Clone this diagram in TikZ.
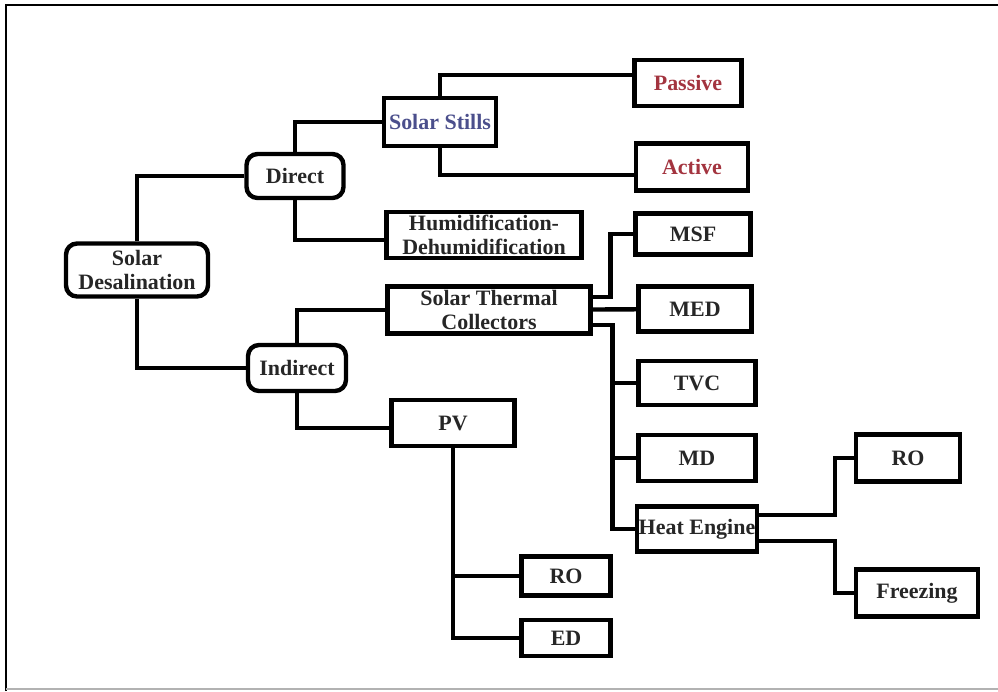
\documentclass[tikz,border=0pt]{standalone}
\usepackage{fontspec}
\setmainfont{Liberation Serif}
\definecolor{stillblue}{HTML}{4B4F8C}
\definecolor{stillred}{HTML}{A3343F}
\begin{document}
\begin{tikzpicture}[x=0.02cm,y=-0.02cm,
		sbox/.style={draw,line width=2.5pt,align=center,inner sep=1pt,font=\fontsize{12.5}{13.5}\selectfont\bfseries,text=black!85},
		rbox/.style={sbox,rounded corners=0.22cm},
		link/.style={line width=2.5pt}]
		\path[use as bounding box] (0,0) rectangle (998,691);
		\draw[line width=1.1pt] (6,691) -- (6,5) -- (998,5);
		\draw[gray!60,line width=1pt] (6,689) -- (998,689);
		
		\node[rbox,minimum width=2.84cm,minimum height=1.06cm] (sd) at (137,270) {Solar\\Desalination};
		\node[rbox,minimum width=1.94cm,minimum height=0.88cm] (dir) at (295,176) {Direct};
		\node[rbox,minimum width=1.96cm,minimum height=0.92cm] (ind) at (297,368) {Indirect};
		
		\node[sbox,minimum width=2.24cm,minimum height=0.96cm,text=stillblue] (stills) at (440,122) {Solar Stills};
		\node[sbox,minimum width=2.14cm,minimum height=0.92cm,text=stillred] (passive) at (688,83) {Passive};
		\node[sbox,minimum width=2.24cm,minimum height=0.94cm,text=stillred] (active) at (692,167) {Active};
		\node[sbox,minimum width=3.9cm,minimum height=0.92cm] (humid) at (484,235) {Humidification-\\Dehumidification};
		
		\node[sbox,minimum width=4.06cm,minimum height=0.94cm] (stc) at (489,310) {Solar Thermal\\Collectors};
		\node[sbox,minimum width=2.46cm,minimum height=0.92cm] (pv) at (453,423) {PV};
		\node[sbox,minimum width=2.3cm,minimum height=0.82cm] (msf) at (693,234) {MSF};
		\node[sbox,minimum width=2.26cm,minimum height=0.9cm] (med) at (695,309) {MED};
		\node[sbox,minimum width=2.34cm,minimum height=0.88cm] (tvc) at (697,383) {TVC};
		\node[sbox,minimum width=2.34cm,minimum height=0.92cm] (md) at (697,458) {MD};
		\node[sbox,minimum width=2.34cm,minimum height=0.9cm] (heat) at (697,529) {Heat Engine};
		\node[sbox,minimum width=2.08cm,minimum height=0.94cm] (rohe) at (908,458) {RO};
		\node[sbox,minimum width=2.44cm,minimum height=0.94cm] (frz) at (917,593) {Freezing};
		\node[sbox,minimum width=1.78cm,minimum height=0.78cm] (ropv) at (566,576) {RO};
		\node[sbox,minimum width=1.78cm,minimum height=0.72cm] (ed) at (566,638) {ED};
		
		\draw[link] (sd.north) |- (dir);
		\draw[link] (sd.south) |- (ind);
		\draw[link] (dir.north) |- (stills);
		\draw[link] (dir.south) |- ([yshift=-0.1cm]humid.west);
		\draw[link] (stills.north) |- ([yshift=0.16cm]passive.west);
		\draw[link] (stills.south) |- ([yshift=-0.16cm]active.west);
		
		\draw[link] (ind.north) |- (stc);
		\draw[link] (ind.south) |- ([yshift=-0.1cm]pv.west);
		\draw[link] ([yshift=0.26cm]stc.east) -- ++(0.36cm,0) |- (msf);
		\draw[link] (stc) -- (med);
		\coordinate (trunk) at ([xshift=0.4cm,yshift=-0.3cm]stc.east);
		\draw[link] ([yshift=-0.3cm]stc.east) -- (trunk) |- (heat);
		\draw[link] (trunk |- tvc) -- (tvc);
		\draw[link] (trunk |- md) -- (md);
		
		\draw[link] ([yshift=0.28cm]heat.east) -- ++(1.52cm,0) |- (rohe);
		\draw[link] ([yshift=-0.24cm]heat.east) -- ++(1.52cm,0) |- (frz);
		\draw[link] (pv.south) |- (ropv);
		\draw[link] (pv.south) |- (ed);
		
	\end{tikzpicture}
\end{document}
